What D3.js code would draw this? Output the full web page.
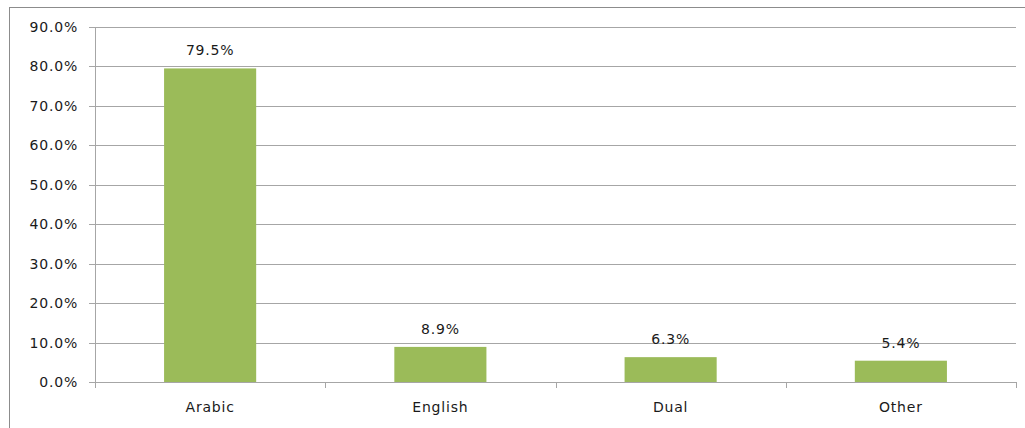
<!DOCTYPE html>
<html>
  <head>
    <meta charset="UTF-8">
    <style>
      body { margin: 0; background: #fff; }
      svg { display: block; font-family: "DejaVu Sans", Verdana, sans-serif; }
      text { letter-spacing: 0.8px; }
    </style>
  </head>
  <body>
    <svg></svg>
    <script src="https://d3js.org/d3.v7.min.js"></script>
    <script>

var categories = ["Arabic", "English", "Dual", "Other"];
var values = [79.5, 8.9, 6.3, 5.4];
var yTicks = [0, 10, 20, 30, 40, 50, 60, 70, 80, 90];

var config = {
  "width": 1025,
  "height": 428,
  "margin": {"top": 27, "right": 9, "bottom": 46, "left": 95},
  "barColor": "#9bbb59",
  "gridColor": "#a6a6a6",
  "fontSize": 14
};

var svg = d3.select("svg")
  .attr("width", config.width)
  .attr("height", config.height);

// outer chart border
svg.append("rect")
  .attr("x", 9.5).attr("y", 7.5)
  .attr("width", 1030).attr("height", 440)
  .attr("fill", "none")
  .attr("stroke", "#8c8c8c");

var m = config.margin,
  w = config.width - m.left - m.right,
  h = config.height - m.top - m.bottom;

var g = svg.append("g").attr("transform", `translate(${m.left},${m.top})`);

var x = d3.scaleBand().domain(categories).range([0, w]).paddingInner(0.6).paddingOuter(0.3);
var y = d3.scaleLinear().domain([0, 90]).range([h, 0]);

// gridlines
g.selectAll(".grid")
  .data(yTicks)
  .enter().append("line")
    .attr("x1", -6).attr("x2", w)
    .attr("y1", d => Math.round(y(d)) + 0.5)
    .attr("y2", d => Math.round(y(d)) + 0.5)
    .attr("stroke", config.gridColor);

// y labels
g.selectAll(".ylab")
  .data(yTicks)
  .enter().append("text")
    .attr("x", -17)
    .attr("y", d => y(d) + 5)
    .attr("text-anchor", "end")
    .attr("font-size", config.fontSize)
    .attr("fill", "#1a1a1a")
    .text(d => d.toFixed(1) + "%");

// bars
g.selectAll(".bar")
  .data(values)
  .enter().append("rect")
    .attr("x", (d, i) => x(categories[i]))
    .attr("y", d => y(d))
    .attr("width", x.bandwidth())
    .attr("height", d => h - y(d))
    .attr("fill", config.barColor);

// value labels
g.selectAll(".vlab")
  .data(values)
  .enter().append("text")
    .attr("x", (d, i) => x(categories[i]) + x.bandwidth() / 2)
    .attr("y", d => y(d) - 13)
    .attr("text-anchor", "middle")
    .attr("font-size", config.fontSize)
    .attr("fill", "#1a1a1a")
    .text(d => d.toFixed(1) + "%");

// axes lines
g.append("line")
  .attr("x1", 0.5).attr("x2", 0.5)
  .attr("y1", 0).attr("y2", h + 6)
  .attr("stroke", config.gridColor);

var step = w / categories.length;
g.selectAll(".xtick")
  .data(d3.range(categories.length + 1))
  .enter().append("line")
    .attr("x1", d => Math.round(d * step) + 0.5)
    .attr("x2", d => Math.round(d * step) + 0.5)
    .attr("y1", h).attr("y2", h + 6)
    .attr("stroke", config.gridColor);

// category labels
g.selectAll(".xlab")
  .data(categories)
  .enter().append("text")
    .attr("x", d => x(d) + x.bandwidth() / 2)
    .attr("y", h + 30)
    .attr("text-anchor", "middle")
    .attr("font-size", config.fontSize)
    .attr("fill", "#1a1a1a")
    .text(d => d);

    </script>
  </body>
</html>
